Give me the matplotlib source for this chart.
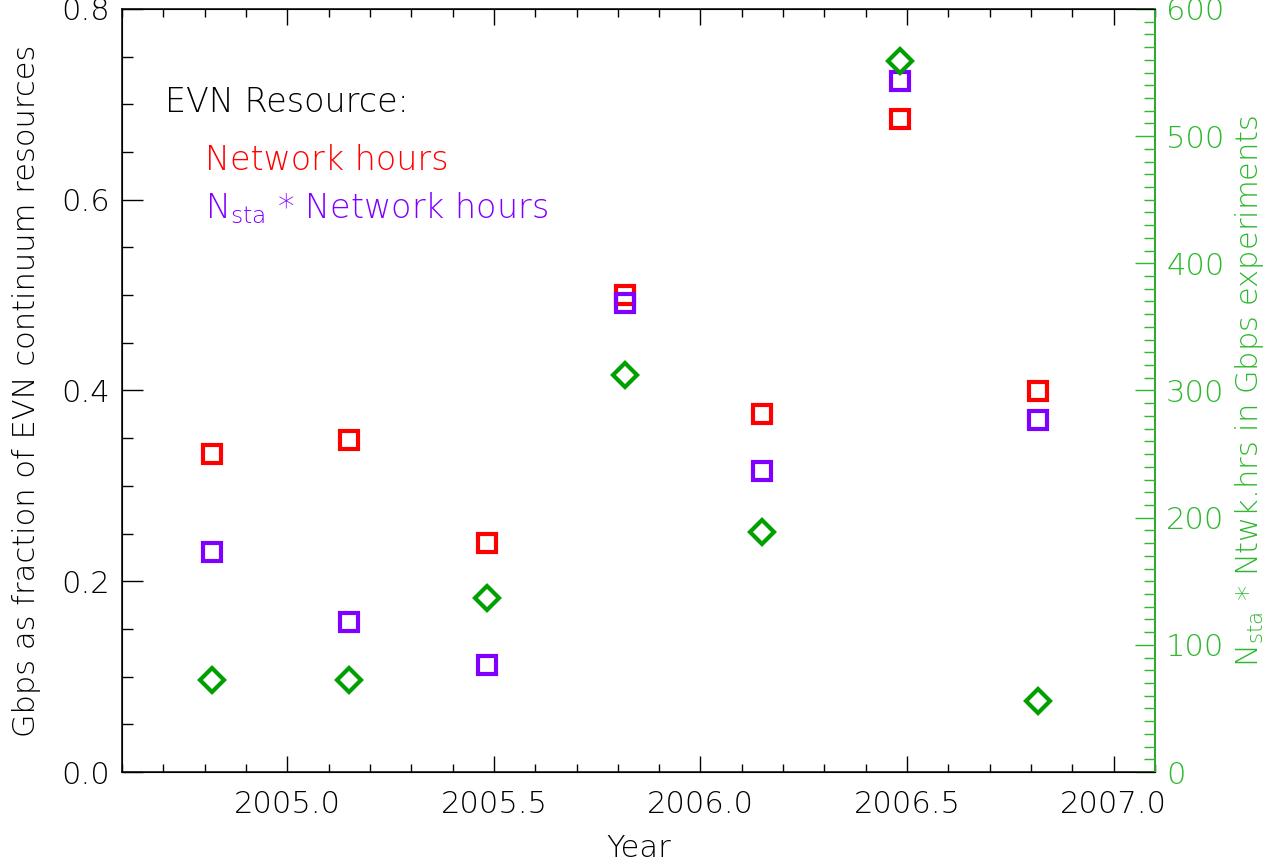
"""
EVN の Gbps 実験が占める連続波リソースの割合 (年ごと)。
左軸: 割合 (Network hours, N_sta * Network hours)
右軸: N_sta * Ntwk.hrs (緑の菱形)
"""

import matplotlib
matplotlib.use("Agg")
import matplotlib.pyplot as plt
from matplotlib.ticker import MultipleLocator

plt.rcParams["font.family"] = ["DejaVu Sans"]
plt.rcParams["font.weight"] = "light"
plt.rcParams["axes.labelweight"] = "light"
plt.rcParams["mathtext.default"] = "regular"

# セッション (年)
years = [2004.817, 2005.150, 2005.483, 2005.817, 2006.150, 2006.483, 2006.817]
# Gbps の割合: Network hours
frac_net_hours = [0.333, 0.348, 0.240, 0.500, 0.375, 0.685, 0.399]
# Gbps の割合: N_sta * Network hours
frac_nsta_hours = [0.231, 0.157, 0.112, 0.492, 0.316, 0.724, 0.369]
# N_sta * Ntwk.hrs (右軸)
nsta_hours = [72, 72, 137, 312, 189, 559, 56]

RED = "#ff0000"
PURPLE = "#8000ff"
GREEN_MK = "#00a000"
GREEN_AX = "#2db82d"
FS = 22

fig = plt.figure(figsize=(12.76, 8.61), dpi=100)
ax = fig.add_axes([122 / 1276, 1 - 772 / 861, 1033 / 1276, 763 / 861])
ax2 = ax.twinx()

ax.plot(years, frac_net_hours, "s", ms=13, mew=3, mfc="none", mec=RED, zorder=3)
ax.plot(years, frac_nsta_hours, "s", ms=13, mew=3, mfc="none", mec=PURPLE, zorder=3)
ax2.plot(years, nsta_hours, "D", ms=12.5, mew=3, mfc="none", mec=GREEN_MK)

ax.set_xlim(2004.6, 2007.1)
ax.set_ylim(0, 0.8)
ax2.set_ylim(0, 600)

ax.xaxis.set_major_locator(MultipleLocator(0.5))
ax.xaxis.set_minor_locator(MultipleLocator(0.1))
ax.yaxis.set_major_locator(MultipleLocator(0.2))
ax.yaxis.set_minor_locator(MultipleLocator(0.05))
ax2.yaxis.set_major_locator(MultipleLocator(100))
ax2.yaxis.set_minor_locator(MultipleLocator(10))
ax.xaxis.set_major_formatter(lambda v, p: f"{v:.1f}")
ax.yaxis.set_major_formatter(lambda v, p: f"{v:.1f}")

ax.tick_params(axis="x", which="major", direction="in", top=True, length=11.5,
               width=1, pad=13, labelsize=FS)
ax.tick_params(axis="x", which="minor", direction="in", top=True, length=5.8, width=1)
ax.tick_params(axis="y", which="major", direction="in", right=False, length=15,
               width=1, pad=9, labelsize=FS)
ax.tick_params(axis="y", which="minor", direction="in", right=False, length=8, width=1)
ax2.tick_params(axis="y", which="major", direction="in", length=14.5, width=1,
                pad=8, labelsize=FS, color=GREEN_AX, labelcolor=GREEN_AX)
ax2.tick_params(axis="y", which="minor", direction="in", length=8, width=1,
                color=GREEN_AX)

for sp in ax.spines.values():
    sp.set_linewidth(1.1)
ax2.spines["right"].set_color(GREEN_AX)
ax2.spines["right"].set_linewidth(1.3)

ax.set_xlabel("Year", fontsize=FS, labelpad=11)
ax.set_ylabel("Gbps as fraction of EVN continuum resources", fontsize=FS, labelpad=14)
ax2.set_ylabel(r"N$_{sta}$ * Ntwk.hrs in Gbps experiments", fontsize=FS,
               color=GREEN_AX, labelpad=6)

ax.text(0.042, 0.877, "EVN Resource:", transform=ax.transAxes, fontsize=24,
        color="black", va="center", ha="left")
ax.text(0.080, 0.802, "Network hours", transform=ax.transAxes, fontsize=24,
        color=RED, va="center", ha="left")
ax.text(0.080, 0.739, r"N$_{sta}$ * Network hours", transform=ax.transAxes,
        fontsize=24, color=PURPLE, va="center", ha="left")

fig.savefig("out.png", dpi=100)
